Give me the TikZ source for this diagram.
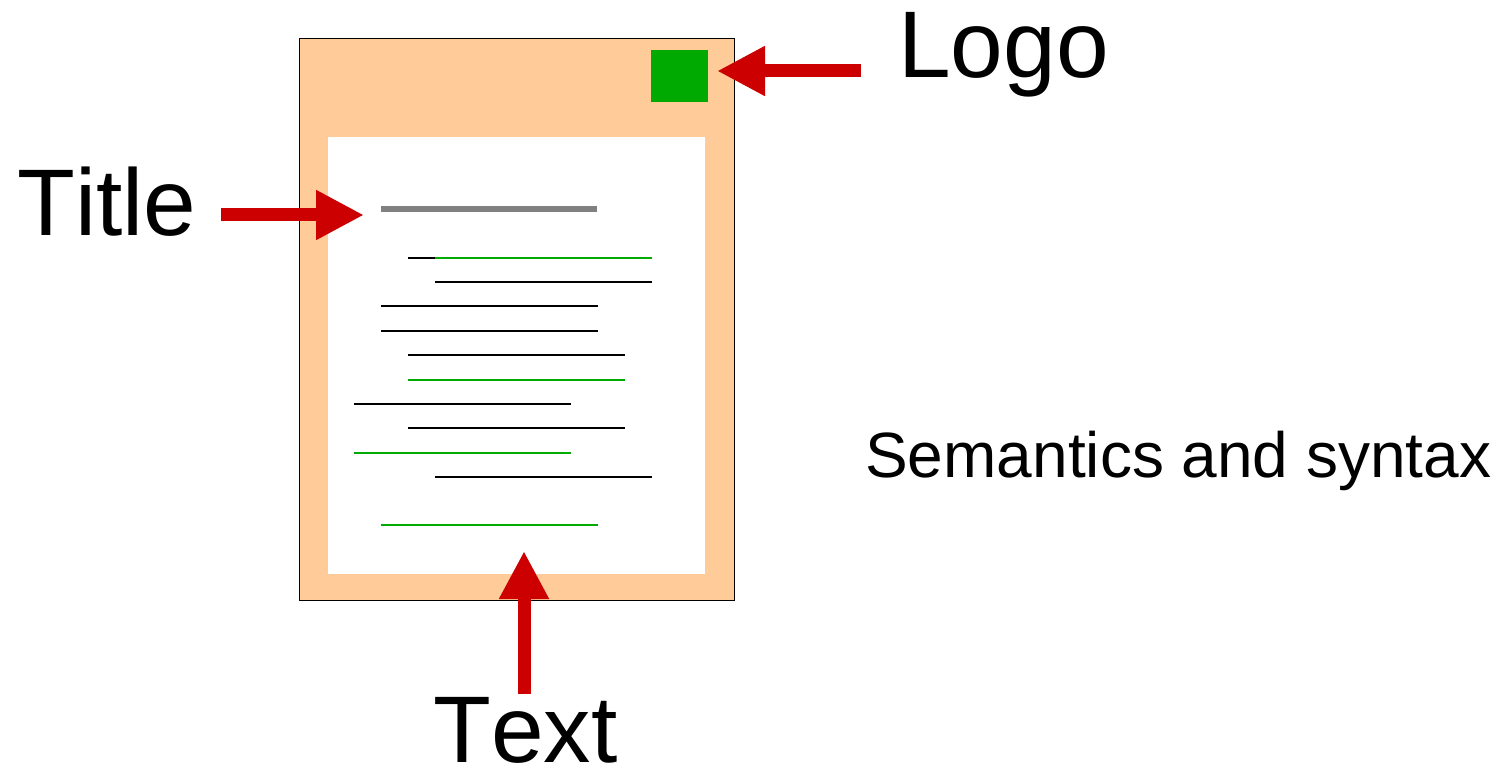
\documentclass[tikz,border=0pt]{standalone}
\usepackage{fontspec}
\setmainfont[Kerning=Off]{Liberation Sans}
\usepackage{tikz}
\usetikzlibrary{arrows.meta,positioning,calc}
\definecolor{pagepeach}{HTML}{FFCC99}
\definecolor{logogreen}{HTML}{00AA00}
\definecolor{arrowred}{HTML}{CC0000}

\begin{document}
\begin{tikzpicture}[
  x=0.75pt, y=-0.75pt,
  every node/.style={inner sep=0pt},
  biglabel/.style={font=\fontsize{71}{71}\selectfont},
  smalllabel/.style={font=\fontsize{48}{48}\selectfont},
  arrow/.style={arrowred, line width=9.75pt, -{Triangle[length=36pt, width=35pt]}},
  textline/.style={line width=1.5pt},
  ]
\useasboundingbox (0,0) rectangle (1496,770);

% Page with its text area and logo
\node (page) [draw=black, line width=1pt, fill=pagepeach, minimum width=326pt, minimum height=421.5pt, anchor=north west] at (299,38) {};
\node (textarea) [fill=white, minimum width=282.75pt, minimum height=327.75pt, anchor=north west] at (328,137) {};
\node (logo) [fill=logogreen, minimum width=42.75pt, minimum height=39pt, anchor=north west] at (651,50) {};

% Title line
\draw[gray, line width=4.5pt] (381,209) -- (597,209);

% Text lines: start, end, height, colour
\foreach \xa/\xb/\yy/\col in {408/435/258/black, 435/652/258/logogreen, 435/652/282/black, 381/598/306/black, 381/598/331/black, 408/625/355/black, 408/625/380/logogreen, 354/571/404/black, 408/625/428/black, 354/571/453/logogreen, 435/652/477/black, 381/598/525/logogreen}
  \draw[textline, \col] (\xa,\yy) -- (\xb,\yy);

% Labels
\node (logolabel) [biglabel, anchor=base west] at (898,78) {Logo};
\node (titlelabel) [biglabel, anchor=base west] at (17,235) {Title};
\node (textlabel) [biglabel, anchor=base west] at (433,762) {Text};
\node (semantics) [smalllabel, anchor=base west] at (865,477) {Semantics and syntax};

% Arrow tips
\coordinate (logotip) at (717,71);
\coordinate (titletip) at (364,215);
\coordinate (texttip) at (524,551);

% Arrows
\draw[arrow, shorten <=28pt] (logolabel.west |- logotip) -- (logotip);
\draw[arrow, shorten <=18.75pt] (titlelabel.east |- titletip) -- (titletip);
\draw[arrow] (texttip |- 0,694) -- (texttip);
\end{tikzpicture}
\end{document}
